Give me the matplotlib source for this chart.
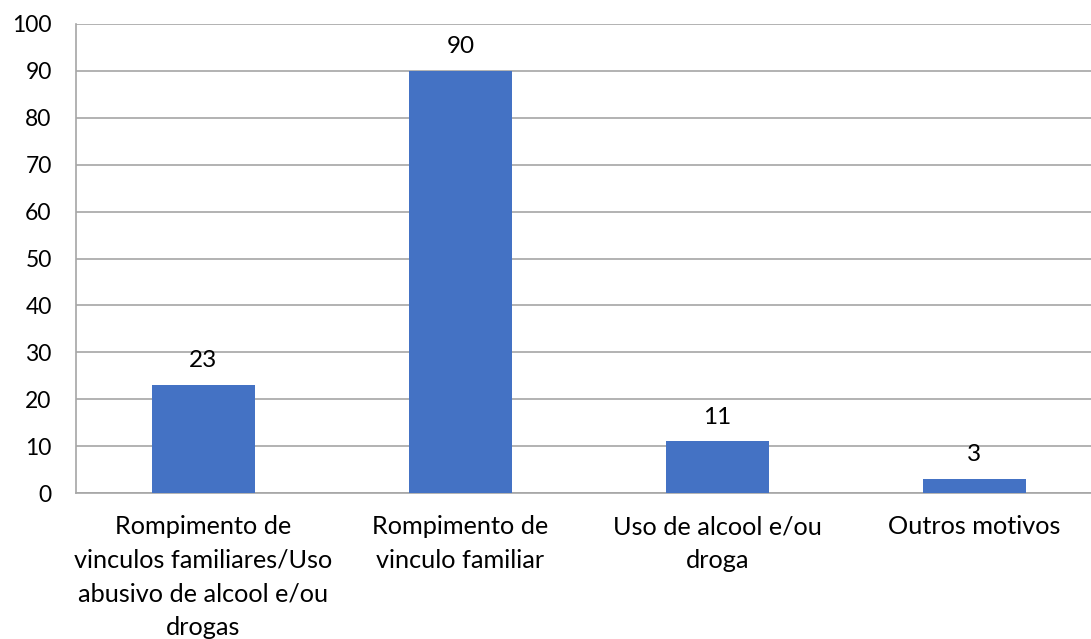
import matplotlib
matplotlib.use("Agg")
import matplotlib.pyplot as plt

categories = ["Rompimento de\nvinculos familiares/Uso\nabusivo de alcool e/ou\ndrogas",
              "Rompimento de\nvinculo familiar",
              "Uso de alcool e/ou\ndroga",
              "Outros motivos"]
values = [23, 90, 11, 3]
yticks = [0, 10, 20, 30, 40, 50, 60, 70, 80, 90, 100]

plt.rcParams['font.family'] = ['Lato', 'DejaVu Sans']
fig = plt.figure(figsize=(10.91, 6.39), dpi=100)
W, H = 1091, 639
ax = fig.add_axes([76 / W, 1 - 493 / H, (1095 - 76) / W, (493 - 24) / H])

x = list(range(len(categories)))
bars = ax.bar(x, values, width=0.40, color="#4472C4", zorder=3)
for xi, v in zip(x, values):
    ax.annotate(str(v), (xi, v), xytext=(0, 10), textcoords="offset points",
                ha="center", va="bottom", fontsize=17.5, color="#000000")

ax.set_xlim(-0.496, 3.47)
ax.set_ylim(0, 100)
ax.set_yticks(yticks)
ax.set_yticklabels([str(t) for t in yticks], fontsize=16.5)
ax.set_xticks(x)
ax.set_xticklabels(categories, fontsize=18.2, linespacing=1.55, va="top")
ax.tick_params(axis="y", length=0, pad=17.5)
ax.tick_params(axis="x", length=0, pad=16)
ax.grid(axis="y", color="#a6a6a6", linewidth=1.2, zorder=0)
for s in ["top", "right"]:
    ax.spines[s].set_visible(False)
ax.spines["left"].set_color("#a6a6a6")
ax.spines["bottom"].set_color("#a6a6a6")
ax.spines["left"].set_linewidth(1.2)
ax.spines["bottom"].set_linewidth(1.2)

fig.savefig("out.png", dpi=100)
